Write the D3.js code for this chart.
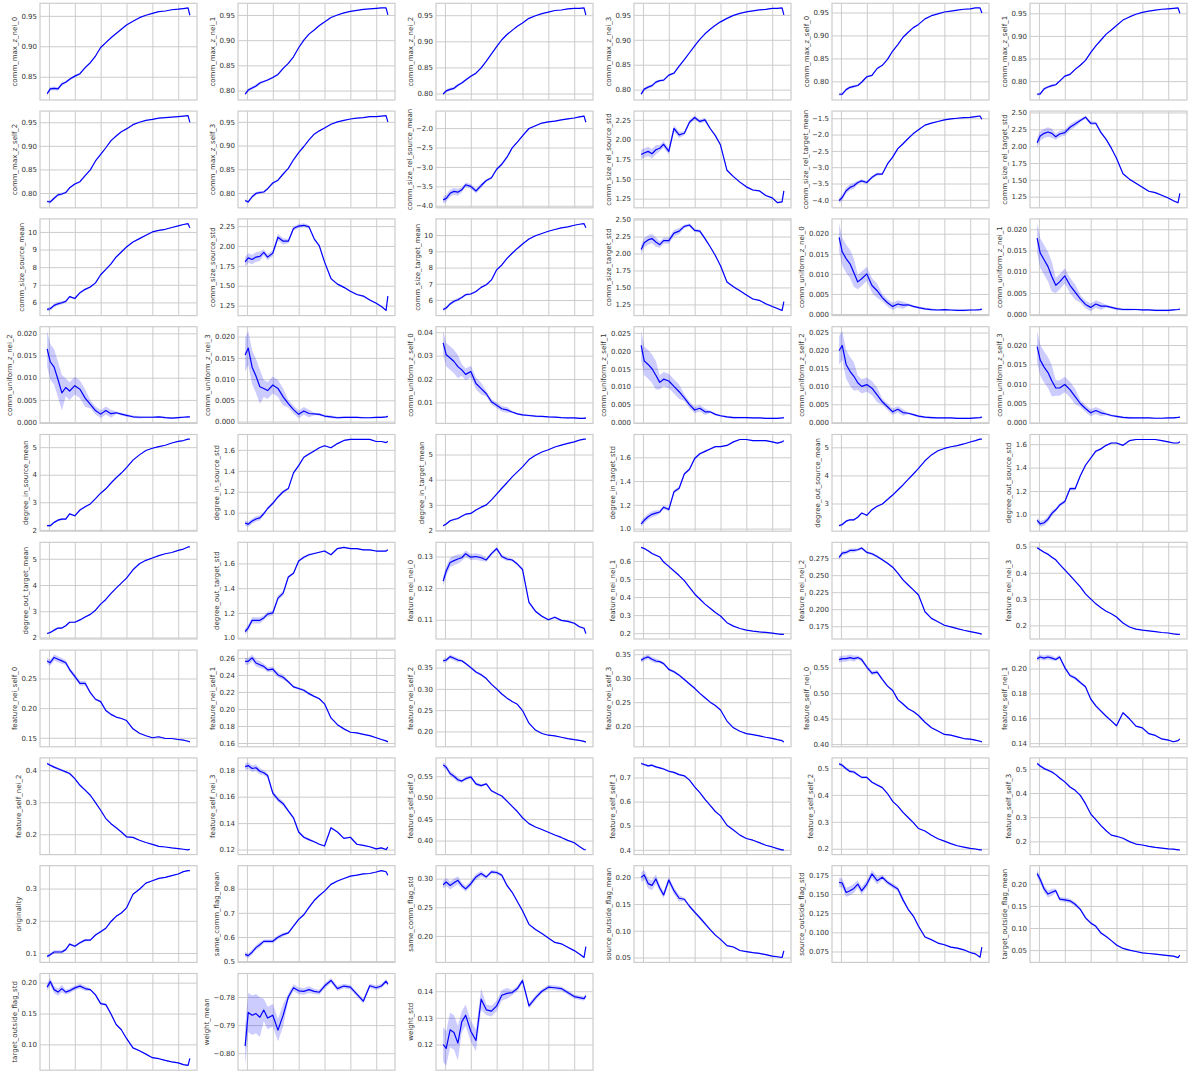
<!DOCTYPE html>
<html>
<head>
<meta charset="utf-8">
<script src="https://cdn.jsdelivr.net/npm/d3@7"></script>
<style>
  body { margin: 0; background: #fff; }
  text { font-family: "DejaVu Sans", sans-serif; }
</style>
</head>
<body>
<svg id="chart" width="1192" height="1073"></svg>
<script>
// sample positions along the run (same for every panel)
const steps = [-0.07,0.05,0.2,0.35,0.5,0.65,0.8,1.0,1.2,1.4,1.6,1.8,2.0,2.2,2.4,2.6,2.8,3.0,3.25,3.5,3.75,4.0,4.25,4.5,4.75,5.0,5.2,5.38,5.45]
const xGrid = [0,1,2,3,4,5]

// mean values per metric
const comm_max_z_nei_0 = [0.822,0.830,0.831,0.830,0.838,0.841,0.846,0.851,0.855,0.865,0.873,0.884,0.898,0.906,0.914,0.921,0.928,0.935,0.941,0.947,0.951,0.954,0.957,0.958,0.960,0.961,0.962,0.963,0.951]
const comm_max_z_nei_1 = [0.793,0.801,0.805,0.809,0.815,0.818,0.821,0.826,0.832,0.844,0.854,0.867,0.885,0.900,0.912,0.920,0.929,0.936,0.945,0.950,0.954,0.957,0.959,0.961,0.962,0.963,0.964,0.964,0.950]
const comm_max_z_nei_2 = [0.799,0.805,0.808,0.810,0.816,0.820,0.826,0.833,0.839,0.849,0.862,0.876,0.890,0.903,0.913,0.921,0.929,0.935,0.944,0.949,0.953,0.956,0.959,0.960,0.962,0.963,0.963,0.964,0.950]
const comm_max_z_nei_3 = [0.791,0.801,0.805,0.808,0.815,0.818,0.819,0.829,0.833,0.847,0.860,0.874,0.888,0.901,0.912,0.921,0.929,0.936,0.943,0.949,0.953,0.956,0.958,0.960,0.961,0.963,0.963,0.964,0.950]
const comm_max_z_self_0 = [0.772,0.772,0.782,0.787,0.789,0.791,0.798,0.810,0.813,0.828,0.835,0.848,0.866,0.880,0.896,0.907,0.917,0.924,0.936,0.943,0.947,0.951,0.953,0.955,0.957,0.958,0.960,0.960,0.949]
const comm_max_z_self_1 = [0.771,0.772,0.783,0.787,0.790,0.792,0.800,0.811,0.815,0.826,0.835,0.846,0.863,0.878,0.891,0.904,0.913,0.923,0.935,0.942,0.948,0.952,0.955,0.957,0.959,0.960,0.961,0.962,0.950]
const comm_max_z_self_2 = [0.782,0.781,0.789,0.796,0.798,0.801,0.811,0.819,0.824,0.837,0.849,0.868,0.882,0.896,0.911,0.921,0.930,0.936,0.945,0.950,0.954,0.956,0.959,0.960,0.961,0.962,0.963,0.964,0.950]
const comm_max_z_self_3 = [0.784,0.781,0.792,0.799,0.801,0.802,0.809,0.821,0.827,0.840,0.852,0.870,0.885,0.898,0.912,0.924,0.931,0.937,0.945,0.950,0.953,0.956,0.958,0.959,0.961,0.961,0.962,0.963,0.950]
const comm_size_rel_source_mean = [-3.85,-3.81,-3.68,-3.63,-3.65,-3.59,-3.46,-3.50,-3.62,-3.48,-3.35,-3.28,-3.06,-2.93,-2.75,-2.51,-2.36,-2.20,-2.01,-1.94,-1.87,-1.84,-1.82,-1.79,-1.76,-1.74,-1.71,-1.69,-1.85]
const comm_size_rel_source_std = [1.81,1.83,1.85,1.82,1.87,1.89,1.94,1.85,2.14,2.06,2.08,2.22,2.28,2.23,2.25,2.14,2.05,1.93,1.61,1.53,1.46,1.40,1.36,1.35,1.29,1.26,1.20,1.21,1.35]
const comm_size_rel_target_mean = [-4.02,-3.93,-3.72,-3.62,-3.57,-3.47,-3.42,-3.47,-3.31,-3.21,-3.21,-2.90,-2.69,-2.43,-2.28,-2.12,-1.97,-1.85,-1.71,-1.65,-1.60,-1.55,-1.52,-1.50,-1.48,-1.47,-1.45,-1.43,-1.53]
const comm_size_rel_target_std = [2.05,2.15,2.19,2.21,2.19,2.14,2.18,2.20,2.28,2.33,2.38,2.43,2.34,2.34,2.20,2.10,1.97,1.82,1.59,1.51,1.45,1.39,1.33,1.31,1.27,1.23,1.19,1.16,1.30]
const comm_size_source_mean = [5.60,5.64,5.83,5.92,5.98,6.06,6.33,6.22,6.55,6.74,6.87,7.11,7.57,7.87,8.19,8.58,8.86,9.15,9.43,9.62,9.81,10.00,10.09,10.15,10.25,10.34,10.42,10.47,10.23]
const comm_size_source_std = [1.80,1.85,1.83,1.86,1.87,1.92,1.86,1.91,2.11,2.06,2.06,2.22,2.25,2.26,2.24,2.09,2.00,1.80,1.59,1.52,1.48,1.43,1.39,1.37,1.32,1.28,1.24,1.19,1.37]
const comm_size_target_mean = [5.41,5.51,5.76,5.92,6.02,6.16,6.33,6.37,6.53,6.78,6.94,7.24,7.86,8.16,8.57,8.88,9.18,9.45,9.76,9.96,10.10,10.24,10.35,10.45,10.51,10.61,10.67,10.71,10.45]
const comm_size_target_std = [2.06,2.16,2.20,2.22,2.17,2.13,2.19,2.19,2.30,2.33,2.40,2.42,2.34,2.33,2.22,2.10,1.97,1.82,1.58,1.51,1.45,1.39,1.33,1.31,1.26,1.22,1.19,1.16,1.29]
const comm_uniform_z_nei_0 = [0.0191,0.0155,0.0138,0.0125,0.0103,0.0080,0.0088,0.0100,0.0071,0.0058,0.0041,0.0028,0.0019,0.0025,0.0022,0.0023,0.0019,0.0016,0.0013,0.0011,0.0010,0.0011,0.0010,0.0009,0.0009,0.0010,0.0010,0.0011,0.0012]
const comm_uniform_z_nei_1 = [0.0179,0.0144,0.0128,0.0112,0.0088,0.0068,0.0076,0.0090,0.0068,0.0052,0.0036,0.0023,0.0016,0.0024,0.0019,0.0019,0.0016,0.0013,0.0011,0.0011,0.0011,0.0010,0.0010,0.0009,0.0009,0.0009,0.0010,0.0011,0.0012]
const comm_uniform_z_nei_2 = [0.0165,0.0136,0.0124,0.0096,0.0066,0.0078,0.0070,0.0082,0.0074,0.0054,0.0040,0.0026,0.0018,0.0026,0.0019,0.0021,0.0018,0.0015,0.0012,0.0011,0.0011,0.0011,0.0012,0.0010,0.0009,0.0010,0.0011,0.0012,0.0012]
const comm_uniform_z_nei_3 = [0.0157,0.0173,0.0128,0.0107,0.0082,0.0078,0.0073,0.0086,0.0078,0.0058,0.0042,0.0028,0.0017,0.0025,0.0019,0.0018,0.0017,0.0013,0.0011,0.0009,0.0010,0.0010,0.0010,0.0009,0.0009,0.0010,0.0010,0.0011,0.0012]
const comm_uniform_z_self_0 = [0.0355,0.0304,0.0290,0.0275,0.0253,0.0239,0.0220,0.0232,0.0181,0.0159,0.0137,0.0103,0.0088,0.0073,0.0068,0.0059,0.0051,0.0047,0.0044,0.0041,0.0040,0.0038,0.0037,0.0035,0.0034,0.0034,0.0032,0.0032,0.0034]
const comm_uniform_z_self_1 = [0.0215,0.0172,0.0162,0.0150,0.0132,0.0112,0.0121,0.0116,0.0101,0.0086,0.0069,0.0050,0.0035,0.0040,0.0030,0.0030,0.0023,0.0019,0.0016,0.0014,0.0014,0.0014,0.0013,0.0013,0.0012,0.0012,0.0012,0.0013,0.0014]
const comm_uniform_z_self_2 = [0.0200,0.0214,0.0161,0.0142,0.0128,0.0110,0.0100,0.0105,0.0095,0.0076,0.0057,0.0043,0.0029,0.0036,0.0027,0.0025,0.0021,0.0017,0.0014,0.0013,0.0012,0.0012,0.0012,0.0011,0.0011,0.0011,0.0012,0.0013,0.0014]
const comm_uniform_z_self_3 = [0.0196,0.0161,0.0143,0.0129,0.0107,0.0089,0.0089,0.0098,0.0085,0.0067,0.0049,0.0036,0.0025,0.0031,0.0025,0.0022,0.0018,0.0016,0.0013,0.0012,0.0012,0.0012,0.0012,0.0011,0.0011,0.0012,0.0012,0.0013,0.0014]
const degree_in_source_mean = [2.15,2.15,2.27,2.35,2.39,2.39,2.58,2.51,2.72,2.84,2.94,3.13,3.33,3.49,3.70,3.89,4.06,4.26,4.53,4.72,4.88,4.96,5.02,5.07,5.15,5.21,5.24,5.29,5.29]
const degree_in_source_std = [0.90,0.89,0.92,0.94,0.95,0.99,1.04,1.09,1.15,1.20,1.23,1.38,1.45,1.53,1.56,1.59,1.62,1.64,1.62,1.66,1.69,1.70,1.70,1.70,1.70,1.68,1.68,1.67,1.68]
const degree_in_target_mean = [2.17,2.24,2.37,2.42,2.46,2.55,2.63,2.66,2.80,2.91,3.00,3.20,3.43,3.66,3.88,4.11,4.31,4.51,4.80,4.97,5.10,5.19,5.30,5.37,5.44,5.50,5.57,5.61,5.61]
const degree_in_target_std = [1.04,1.07,1.10,1.12,1.13,1.14,1.18,1.16,1.31,1.34,1.46,1.50,1.59,1.63,1.65,1.67,1.69,1.69,1.70,1.73,1.75,1.75,1.74,1.74,1.74,1.73,1.72,1.73,1.74]
const degree_out_source_mean = [2.21,2.25,2.37,2.42,2.42,2.51,2.66,2.58,2.78,2.90,2.98,3.14,3.30,3.48,3.66,3.86,4.05,4.25,4.52,4.73,4.88,4.96,5.02,5.06,5.12,5.19,5.24,5.29,5.29]
const degree_out_source_std = [0.95,0.92,0.93,0.96,1.01,1.04,1.08,1.11,1.22,1.22,1.33,1.42,1.48,1.54,1.56,1.59,1.61,1.61,1.59,1.63,1.64,1.64,1.64,1.64,1.63,1.62,1.61,1.61,1.62]
const degree_out_target_mean = [2.15,2.19,2.28,2.36,2.36,2.45,2.58,2.58,2.67,2.78,2.88,3.04,3.27,3.45,3.68,3.88,4.07,4.26,4.58,4.81,4.94,5.03,5.12,5.19,5.24,5.32,5.37,5.45,5.45]
const degree_out_target_std = [1.05,1.08,1.14,1.14,1.14,1.16,1.19,1.20,1.32,1.36,1.49,1.52,1.62,1.65,1.67,1.68,1.69,1.70,1.67,1.72,1.73,1.72,1.72,1.71,1.71,1.70,1.70,1.70,1.71]
const feature_nei_nei_0 = [0.1222,0.1254,0.1281,0.1287,0.1292,0.1296,0.1309,0.1298,0.1300,0.1296,0.1289,0.1309,0.1325,0.1300,0.1292,0.1289,0.1276,0.1259,0.1155,0.1127,0.1111,0.1100,0.1108,0.1098,0.1095,0.1089,0.1078,0.1073,0.1056]
const feature_nei_nei_1 = [0.675,0.669,0.656,0.641,0.632,0.622,0.594,0.570,0.544,0.519,0.491,0.454,0.417,0.389,0.361,0.338,0.314,0.295,0.258,0.239,0.226,0.217,0.211,0.207,0.204,0.200,0.196,0.193,0.193]
const feature_nei_nei_2 = [0.2760,0.2824,0.2834,0.2863,0.2863,0.2873,0.2898,0.2834,0.2814,0.2775,0.2725,0.2676,0.2617,0.2529,0.2430,0.2356,0.2283,0.2209,0.1963,0.1865,0.1815,0.1765,0.1740,0.1716,0.1691,0.1672,0.1657,0.1642,0.1632]
const feature_nei_nei_3 = [0.495,0.487,0.478,0.470,0.459,0.449,0.432,0.411,0.390,0.368,0.346,0.320,0.301,0.282,0.267,0.254,0.244,0.232,0.209,0.194,0.186,0.182,0.179,0.176,0.173,0.171,0.168,0.166,0.166]
const feature_nei_self_0 = [0.2797,0.2767,0.2855,0.2826,0.2797,0.2767,0.2651,0.2535,0.2419,0.2420,0.2260,0.2150,0.2110,0.1960,0.1895,0.1849,0.1826,0.1791,0.1651,0.1576,0.1535,0.1500,0.1517,0.1488,0.1488,0.1471,0.1459,0.1442,0.1430]
const feature_nei_self_1 = [0.2560,0.2560,0.2600,0.2540,0.2520,0.2500,0.2460,0.2468,0.2400,0.2372,0.2320,0.2260,0.2240,0.2220,0.2180,0.2148,0.2120,0.2060,0.1895,0.1815,0.1766,0.1726,0.1718,0.1702,0.1686,0.1662,0.1641,0.1625,0.1613]
const feature_nei_self_2 = [0.3661,0.3677,0.3758,0.3718,0.3677,0.3661,0.3597,0.3500,0.3395,0.3331,0.3242,0.3105,0.3000,0.2879,0.2782,0.2702,0.2637,0.2490,0.2194,0.2032,0.1952,0.1911,0.1895,0.1863,0.1831,0.1806,0.1790,0.1766,0.1750]
const feature_nei_self_3 = [0.3373,0.3415,0.3444,0.3394,0.3359,0.3345,0.3303,0.3183,0.3134,0.3063,0.2972,0.2880,0.2789,0.2683,0.2592,0.2500,0.2430,0.2338,0.2106,0.1965,0.1894,0.1845,0.1824,0.1796,0.1768,0.1746,0.1718,0.1697,0.1669]
const feature_self_nei_0 = [0.5659,0.5679,0.5679,0.5699,0.5679,0.5699,0.5659,0.5513,0.5394,0.5414,0.5272,0.5139,0.5053,0.4874,0.4788,0.4695,0.4641,0.4562,0.4429,0.4323,0.4256,0.4190,0.4177,0.4143,0.4110,0.4097,0.4077,0.4057,0.4044]
const feature_self_nei_1 = [0.2079,0.2093,0.2084,0.2093,0.2084,0.2073,0.2093,0.2008,0.1944,0.1924,0.1888,0.1854,0.1756,0.1700,0.1658,0.1616,0.1579,0.1540,0.1644,0.1596,0.1537,0.1523,0.1476,0.1462,0.1434,0.1425,0.1411,0.1420,0.1434]
const feature_self_nei_2 = [0.421,0.416,0.410,0.405,0.400,0.395,0.390,0.374,0.353,0.338,0.322,0.299,0.275,0.249,0.233,0.220,0.207,0.192,0.190,0.181,0.174,0.168,0.162,0.160,0.157,0.155,0.153,0.151,0.153]
const feature_self_nei_3 = [0.1827,0.1835,0.1813,0.1819,0.1792,0.1781,0.1760,0.1627,0.1579,0.1547,0.1493,0.1440,0.1333,0.1293,0.1275,0.1259,0.1240,0.1227,0.1365,0.1333,0.1285,0.1293,0.1240,0.1232,0.1221,0.1205,0.1213,0.1200,0.1219]
const feature_self_self_0 = [0.5766,0.5710,0.5565,0.5500,0.5419,0.5387,0.5444,0.5484,0.5323,0.5282,0.5323,0.5161,0.5097,0.5040,0.4919,0.4798,0.4677,0.4532,0.4395,0.4315,0.4258,0.4194,0.4129,0.4073,0.4005,0.3950,0.3860,0.3790,0.3785]
const feature_self_self_1 = [0.758,0.754,0.748,0.751,0.744,0.740,0.735,0.726,0.721,0.712,0.707,0.689,0.661,0.637,0.609,0.584,0.559,0.541,0.502,0.482,0.461,0.447,0.440,0.430,0.419,0.412,0.405,0.400,0.400]
const feature_self_self_2 = [0.515,0.510,0.497,0.487,0.485,0.475,0.465,0.465,0.447,0.437,0.427,0.405,0.376,0.358,0.335,0.316,0.297,0.275,0.266,0.250,0.237,0.228,0.219,0.211,0.206,0.201,0.199,0.196,0.196]
const feature_self_self_3 = [0.522,0.512,0.501,0.494,0.487,0.476,0.462,0.446,0.425,0.411,0.390,0.356,0.314,0.290,0.265,0.244,0.226,0.221,0.213,0.199,0.189,0.185,0.179,0.175,0.172,0.169,0.168,0.165,0.165]
const originality = [0.0895,0.0947,0.1032,0.1032,0.1032,0.1105,0.1274,0.1211,0.1316,0.1400,0.1400,0.1558,0.1663,0.1768,0.1979,0.2137,0.2242,0.2400,0.2821,0.2979,0.3168,0.3242,0.3316,0.3347,0.3400,0.3453,0.3526,0.3558,0.3558]
const same_comm_flag_mean = [0.528,0.523,0.537,0.556,0.568,0.582,0.582,0.582,0.599,0.610,0.617,0.645,0.673,0.692,0.723,0.751,0.772,0.790,0.818,0.832,0.842,0.852,0.856,0.861,0.863,0.869,0.875,0.870,0.856]
const same_comm_flag_std = [0.2893,0.2940,0.2881,0.2929,0.2970,0.2881,0.2821,0.2911,0.3030,0.3089,0.3030,0.3119,0.3107,0.3060,0.2881,0.2762,0.2601,0.2440,0.2202,0.2113,0.2042,0.1964,0.1887,0.1863,0.1804,0.1744,0.1685,0.1625,0.1815]
const source_outside_flag_mean = [0.2000,0.2046,0.1883,0.1850,0.1970,0.1800,0.1670,0.1950,0.1750,0.1609,0.1590,0.1459,0.1348,0.1244,0.1133,0.1022,0.0918,0.0839,0.0722,0.0696,0.0630,0.0611,0.0591,0.0578,0.0552,0.0526,0.0513,0.0500,0.0624]
const source_outside_flag_std = [0.1653,0.1644,0.1521,0.1543,0.1574,0.1631,0.1543,0.1631,0.1763,0.1675,0.1719,0.1653,0.1609,0.1565,0.1424,0.1301,0.1213,0.1080,0.0940,0.0904,0.0860,0.0838,0.0807,0.0794,0.0772,0.0737,0.0719,0.0675,0.0807]
const target_outside_flag_mean = [0.2231,0.2100,0.1885,0.1769,0.1808,0.1846,0.1654,0.1638,0.1615,0.1538,0.1423,0.1231,0.1115,0.1038,0.0885,0.0808,0.0715,0.0615,0.0538,0.0500,0.0469,0.0438,0.0423,0.0408,0.0392,0.0377,0.0362,0.0331,0.0385]
const target_outside_flag_std = [0.1927,0.2017,0.1887,0.1847,0.1904,0.1847,0.1870,0.1915,0.1944,0.1904,0.1887,0.1802,0.1661,0.1644,0.1492,0.1322,0.1237,0.1096,0.0944,0.0898,0.0842,0.0785,0.0768,0.0740,0.0718,0.0701,0.0672,0.0661,0.0774]
const weight_mean = [-0.7975,-0.7855,-0.7865,-0.7859,-0.7872,-0.7846,-0.7875,-0.7865,-0.7918,-0.7865,-0.7800,-0.7767,-0.7778,-0.7780,-0.7774,-0.7780,-0.7783,-0.7761,-0.7741,-0.7770,-0.7761,-0.7765,-0.7790,-0.7815,-0.7760,-0.7767,-0.7761,-0.7744,-0.7754]
const weight_std = [0.1200,0.1185,0.1255,0.1245,0.1205,0.1285,0.1310,0.1250,0.1215,0.1370,0.1330,0.1325,0.1345,0.1385,0.1392,0.1395,0.1410,0.1440,0.1345,0.1375,0.1400,0.1415,0.1413,0.1410,0.1395,0.1380,0.1376,0.1372,0.1383]

const panelNames = [
  "comm_max_z_nei_0","comm_max_z_nei_1","comm_max_z_nei_2","comm_max_z_nei_3","comm_max_z_self_0","comm_max_z_self_1",
  "comm_max_z_self_2","comm_max_z_self_3","comm_size_rel_source_mean","comm_size_rel_source_std","comm_size_rel_target_mean","comm_size_rel_target_std",
  "comm_size_source_mean","comm_size_source_std","comm_size_target_mean","comm_size_target_std","comm_uniform_z_nei_0","comm_uniform_z_nei_1",
  "comm_uniform_z_nei_2","comm_uniform_z_nei_3","comm_uniform_z_self_0","comm_uniform_z_self_1","comm_uniform_z_self_2","comm_uniform_z_self_3",
  "degree_in_source_mean","degree_in_source_std","degree_in_target_mean","degree_in_target_std","degree_out_source_mean","degree_out_source_std",
  "degree_out_target_mean","degree_out_target_std","feature_nei_nei_0","feature_nei_nei_1","feature_nei_nei_2","feature_nei_nei_3",
  "feature_nei_self_0","feature_nei_self_1","feature_nei_self_2","feature_nei_self_3","feature_self_nei_0","feature_self_nei_1",
  "feature_self_nei_2","feature_self_nei_3","feature_self_self_0","feature_self_self_1","feature_self_self_2","feature_self_self_3",
  "originality","same_comm_flag_mean","same_comm_flag_std","source_outside_flag_mean","source_outside_flag_std","target_outside_flag_mean",
  "target_outside_flag_std","weight_mean","weight_std"
]
const panelValues = [
  comm_max_z_nei_0,comm_max_z_nei_1,comm_max_z_nei_2,comm_max_z_nei_3,comm_max_z_self_0,comm_max_z_self_1,
  comm_max_z_self_2,comm_max_z_self_3,comm_size_rel_source_mean,comm_size_rel_source_std,comm_size_rel_target_mean,comm_size_rel_target_std,
  comm_size_source_mean,comm_size_source_std,comm_size_target_mean,comm_size_target_std,comm_uniform_z_nei_0,comm_uniform_z_nei_1,
  comm_uniform_z_nei_2,comm_uniform_z_nei_3,comm_uniform_z_self_0,comm_uniform_z_self_1,comm_uniform_z_self_2,comm_uniform_z_self_3,
  degree_in_source_mean,degree_in_source_std,degree_in_target_mean,degree_in_target_std,degree_out_source_mean,degree_out_source_std,
  degree_out_target_mean,degree_out_target_std,feature_nei_nei_0,feature_nei_nei_1,feature_nei_nei_2,feature_nei_nei_3,
  feature_nei_self_0,feature_nei_self_1,feature_nei_self_2,feature_nei_self_3,feature_self_nei_0,feature_self_nei_1,
  feature_self_nei_2,feature_self_nei_3,feature_self_self_0,feature_self_self_1,feature_self_self_2,feature_self_self_3,
  originality,same_comm_flag_mean,same_comm_flag_std,source_outside_flag_mean,source_outside_flag_std,target_outside_flag_mean,
  target_outside_flag_std,weight_mean,weight_std
]

// half-width of the shaded interval, over six stretches of the run
const bandWidths = [
  [0.003,0.002,0.001,0.0006,0.0004,0.0004],[0.003,0.002,0.001,0.0006,0.0004,0.0004],[0.003,0.002,0.001,0.0006,0.0004,0.0004],
  [0.003,0.002,0.001,0.0006,0.0004,0.0004],[0.003,0.002,0.001,0.0006,0.0004,0.0004],[0.003,0.002,0.001,0.0006,0.0004,0.0004],
  [0.003,0.002,0.001,0.0006,0.0004,0.0004],[0.003,0.002,0.001,0.0006,0.0004,0.0004],[0.09,0.06,0.035,0.02,0.015,0.015],
  [0.06,0.04,0.025,0.012,0.01,0.01],[0.09,0.05,0.03,0.02,0.015,0.015],[0.07,0.045,0.025,0.012,0.01,0.01],
  [0.1,0.06,0.04,0.03,0.02,0.02],[0.06,0.04,0.025,0.012,0.01,0.01],[0.1,0.06,0.04,0.03,0.02,0.02],
  [0.07,0.045,0.025,0.012,0.01,0.01],[0.0035,0.0018,0.0009,0.0003,0.0002,0.0002],[0.0035,0.0018,0.0009,0.0003,0.0002,0.0002],
  [0.004,0.002,0.0009,0.0003,0.0002,0.0002],[0.004,0.002,0.0009,0.0003,0.0002,0.0002],[0.005,0.0025,0.0012,0.0004,0.0003,0.0003],
  [0.004,0.002,0.0009,0.0003,0.0002,0.0002],[0.004,0.002,0.0009,0.0003,0.0002,0.0002],[0.004,0.002,0.0009,0.0003,0.0002,0.0002],
  [0.04,0.03,0.02,0.015,0.01,0.01],[0.025,0.015,0.01,0.006,0.005,0.005],[0.04,0.03,0.02,0.015,0.01,0.01],
  [0.025,0.015,0.01,0.006,0.005,0.005],[0.04,0.03,0.02,0.015,0.01,0.01],[0.025,0.015,0.01,0.006,0.005,0.005],
  [0.04,0.03,0.02,0.015,0.01,0.01],[0.025,0.02,0.01,0.006,0.005,0.005],[0.0015,0.001,0.0006,0.0004,0.0003,0.0003],
  [0.004,0.003,0.002,0.0015,0.001,0.001],[0.003,0.002,0.0012,0.0008,0.0005,0.0005],[0.004,0.003,0.002,0.0015,0.001,0.001],
  [0.005,0.004,0.002,0.001,0.0008,0.0008],[0.004,0.003,0.0015,0.0008,0.0006,0.0006],[0.005,0.003,0.002,0.001,0.0008,0.0008],
  [0.005,0.003,0.002,0.001,0.0008,0.0008],[0.006,0.004,0.002,0.0012,0.001,0.001],[0.002,0.0015,0.001,0.0006,0.0005,0.0005],
  [0.004,0.003,0.002,0.0015,0.001,0.001],[0.0025,0.0018,0.001,0.0006,0.0005,0.0005],[0.006,0.004,0.002,0.0012,0.001,0.001],
  [0.005,0.004,0.003,0.002,0.0015,0.0015],[0.006,0.004,0.003,0.002,0.0015,0.0015],[0.005,0.004,0.003,0.002,0.0015,0.0015],
  [0.005,0.004,0.003,0.002,0.0015,0.0015],[0.01,0.008,0.005,0.003,0.002,0.002],[0.007,0.005,0.003,0.0015,0.001,0.001],
  [0.009,0.006,0.003,0.0015,0.001,0.001],[0.006,0.005,0.003,0.0015,0.001,0.001],[0.008,0.005,0.003,0.0015,0.001,0.001],
  [0.006,0.004,0.002,0.001,0.0008,0.0008],[0.007,0.004,0.0012,0.0009,0.0008,0.0008],[0.0065,0.004,0.002,0.001,0.0008,0.0008]
]

const tMax = ["0.80","0.85","0.90","0.95"]
const tStd = ["1.25","1.50","1.75","2.00","2.25","2.50"]
const tUni = ["0.000","0.005","0.010","0.015","0.020","0.025"]
const tDeg = ["2","3","4","5"]
const tDegStd = ["1.0","1.2","1.4","1.6"]
const yTickLabels = [
  tMax,tMax,tMax,tMax,tMax,tMax,
  tMax,tMax,["-4.0","-3.5","-3.0","-2.5","-2.0"],tStd,["-4.0","-3.5","-3.0","-2.5","-2.0","-1.5"],tStd,
  ["6","7","8","9","10"],tStd,["6","7","8","9","10"],tStd,tUni,tUni,
  tUni,tUni,["0.01","0.02","0.03","0.04"],tUni,tUni,tUni,
  tDeg,tDegStd,tDeg,tDegStd,tDeg,tDegStd,
  tDeg,tDegStd,["0.11","0.12","0.13"],["0.2","0.3","0.4","0.5","0.6"],["0.175","0.200","0.225","0.250","0.275"],["0.2","0.3","0.4","0.5"],
  ["0.15","0.20","0.25","0.30"],["0.16","0.18","0.20","0.22","0.24","0.26"],["0.20","0.25","0.30","0.35"],["0.20","0.25","0.30","0.35"],["0.40","0.45","0.50","0.55"],["0.14","0.16","0.18","0.20"],
  ["0.2","0.3","0.4"],["0.12","0.14","0.16","0.18"],["0.40","0.45","0.50","0.55"],["0.4","0.5","0.6","0.7"],["0.2","0.3","0.4","0.5"],["0.2","0.3","0.4","0.5"],
  ["0.1","0.2","0.3"],["0.5","0.6","0.7","0.8"],["0.20","0.25","0.30"],["0.05","0.10","0.15","0.20"],["0.075","0.100","0.125","0.150","0.175"],["0.05","0.10","0.15","0.20"],
  ["0.10","0.15","0.20"],["-0.80","-0.79","-0.78"],["0.11","0.12","0.13","0.14"]
]

const svg = d3.select("#chart")
const ncol = 6, colStep = 198, rowStep = 107.8, left0 = 40, top0 = 3.3
const pw = 157, ph = 96.7
const gridColor = "#cccccc", textColor = "#333333"

const xPad = (steps[steps.length - 1] - steps[0]) * 0.05
const x = d3.scaleLinear().domain([steps[0] - xPad, steps[steps.length - 1] + xPad]).range([0, pw])

panelNames.forEach((name, k) => {
  const vals = panelValues[k], bw = bandWidths[k]
  const pts = vals.map((v, i) => {
    const b = bw[Math.floor(i * bw.length / vals.length)]
    return { x: steps[i], y: v, lo: v - b, hi: v + b }
  })
  const lo = d3.min(pts, d => d.lo), hi = d3.max(pts, d => d.hi)
  const pad = (hi - lo) * 0.05
  const y = d3.scaleLinear().domain([lo - pad, hi + pad]).range([ph, 0])
  const ticks = yTickLabels[k].filter(t => +t >= lo - pad && +t <= hi + pad)

  const g = svg.append("g")
    .attr("transform", "translate(" + (left0 + (k % ncol) * colStep) + "," + (top0 + Math.floor(k / ncol) * rowStep) + ")")

  // vertical grid
  const gx = g.append("g")
    .attr("transform", "translate(0," + ph + ")")
    .call(d3.axisBottom(x).tickValues(xGrid).tickSize(-ph).tickFormat(""))
  gx.select(".domain").remove()
  gx.selectAll("line").attr("stroke", gridColor).attr("stroke-width", 1)

  // horizontal grid + labels
  const gy = g.append("g")
    .call(d3.axisLeft(y).tickValues(ticks.map(Number)).tickSize(-pw).tickPadding(3)
      .tickFormat((d, i) => ticks[i].replace("-", "\u2212")))
  gy.select(".domain").remove()
  gy.selectAll("line").attr("stroke", gridColor).attr("stroke-width", 1)
  gy.selectAll("text").attr("fill", textColor).style("font-size", "7px")

  // frame
  g.append("rect")
    .attr("width", pw).attr("height", ph)
    .attr("fill", "none").attr("stroke", gridColor).attr("stroke-width", 1.2)

  // confidence band
  g.append("path")
    .datum(pts)
    .attr("fill", "#0000ff").attr("fill-opacity", 0.2)
    .attr("d", d3.area().x(d => x(d.x)).y0(d => y(d.lo)).y1(d => y(d.hi)))

  // mean line
  g.append("path")
    .datum(pts)
    .attr("fill", "none").attr("stroke", "#0000ff").attr("stroke-width", 1.2)
    .attr("stroke-linejoin", "round")
    .attr("d", d3.line().x(d => x(d.x)).y(d => y(d.y)))

  // y label placed left of the widest tick label
  const maxW = d3.max(gy.selectAll("text").nodes(), n => n.getComputedTextLength()) || 0
  const lx = -3 - maxW - 6.5
  g.append("text")
    .attr("transform", "translate(" + lx + "," + (ph / 2) + ") rotate(-90)")
    .attr("text-anchor", "middle")
    .attr("dominant-baseline", "central")
    .attr("fill", textColor)
    .style("font-size", "7px")
    .text(name)
})
</script>
</body>
</html>
